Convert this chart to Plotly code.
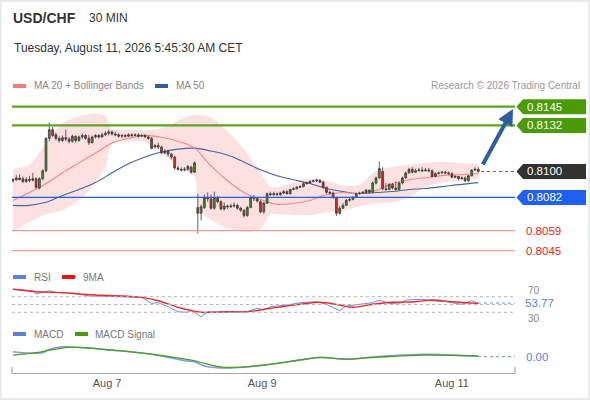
import plotly.graph_objects as go

W, H = 590, 400
FONT = "Liberation Sans, Arial, sans-serif"

# ---------------- data ----------------
opens = [
    0.80935, 0.80942, 0.80955, 0.8095, 0.8093, 0.80945, 0.8094, 0.8095, 0.80885, 0.8095,
    0.81005, 0.8123, 0.8129, 0.81255, 0.8123, 0.81215, 0.81235, 0.81225, 0.8121, 0.81245,
    0.81215, 0.8124, 0.8125, 0.8123, 0.812, 0.8124, 0.8125, 0.8124, 0.81255, 0.81265,
    0.81275, 0.8126, 0.81255, 0.81245, 0.8125, 0.81245, 0.81255, 0.8125, 0.81255, 0.81245,
    0.8125, 0.8124, 0.8123, 0.8117, 0.8118, 0.8117, 0.8113, 0.8114, 0.8112, 0.811,
    0.81025, 0.81015, 0.8101, 0.81015, 0.8103, 0.80995, 0.8075, 0.8071, 0.8075, 0.8082,
    0.8081, 0.80745, 0.8082, 0.8079, 0.8074, 0.8076, 0.80755, 0.8076, 0.80765, 0.80745,
    0.8073, 0.80695, 0.8075, 0.8082, 0.8081, 0.8079, 0.8072, 0.8078, 0.80845, 0.8084,
    0.80845, 0.8084, 0.8085, 0.8086, 0.80845, 0.80875, 0.8088, 0.8089, 0.80895, 0.80915,
    0.8092, 0.8093, 0.80935, 0.8094, 0.80925, 0.8089, 0.80855, 0.8085, 0.8082, 0.8071,
    0.80745, 0.80765, 0.808, 0.80805, 0.8082, 0.80845, 0.8085, 0.80855, 0.8087, 0.80855,
    0.8092, 0.80955, 0.81, 0.8088, 0.80875, 0.8091, 0.80885, 0.80875, 0.8092, 0.80955,
    0.8099, 0.81015, 0.80995, 0.81005, 0.8101, 0.81005, 0.8101, 0.81005, 0.80965, 0.80985,
    0.8099, 0.80995, 0.8099, 0.80985, 0.8096, 0.80965, 0.8095, 0.80955, 0.80935, 0.8097,
    0.8101, 0.81015,
]
highs = [
    0.80955, 0.80975, 0.8098, 0.80965, 0.8096, 0.8097, 0.8099, 0.8096, 0.8096, 0.81015,
    0.8124, 0.8134, 0.8131, 0.8127, 0.81245, 0.8125, 0.8129, 0.8124, 0.81255, 0.8125,
    0.8125, 0.81265, 0.8126, 0.81255, 0.8125, 0.8126, 0.8126, 0.8127, 0.8128, 0.8129,
    0.81285, 0.81275, 0.81265, 0.8126, 0.8126, 0.81265, 0.81265, 0.81265, 0.81265, 0.8126,
    0.8126, 0.8125, 0.8124, 0.8119, 0.812, 0.8118, 0.81155, 0.8115, 0.8113, 0.8111,
    0.8104, 0.8103, 0.8103, 0.81045, 0.8104, 0.8107, 0.80845, 0.8077, 0.8084, 0.80855,
    0.8084, 0.8086, 0.8083, 0.808, 0.80785, 0.8077, 0.80775, 0.80785, 0.80775, 0.80755,
    0.8074, 0.8076, 0.8083, 0.80835, 0.8082, 0.808, 0.8079, 0.80855, 0.8086, 0.8086,
    0.80855, 0.8086, 0.8087, 0.8087, 0.8088, 0.8089, 0.809, 0.80905, 0.80925, 0.8093,
    0.8094, 0.80945, 0.8095, 0.80945, 0.80935, 0.80895, 0.80865, 0.8086, 0.80825, 0.8076,
    0.8078, 0.8081, 0.80815, 0.8083, 0.80855, 0.8086, 0.80865, 0.8088, 0.80875, 0.8093,
    0.80965, 0.8107, 0.8103, 0.8092, 0.8092, 0.8092, 0.8093, 0.8093, 0.80965, 0.81,
    0.81025, 0.8103, 0.8102, 0.81025, 0.8103, 0.81025, 0.81025, 0.81015, 0.80995, 0.81,
    0.81005, 0.81005, 0.81, 0.80995, 0.80975, 0.8097, 0.80965, 0.80965, 0.80975, 0.81015,
    0.8103, 0.8103,
]
lows = [
    0.80925, 0.80935, 0.80938, 0.8092, 0.8092, 0.80925, 0.8093, 0.8088, 0.80875, 0.8094,
    0.80995, 0.8121, 0.8124, 0.81215, 0.812, 0.81205, 0.8121, 0.81195, 0.812, 0.812,
    0.81205, 0.81225, 0.8122, 0.81185, 0.81195, 0.8123, 0.8123, 0.81235, 0.81245, 0.8125,
    0.8125, 0.81245, 0.81235, 0.81235, 0.81235, 0.8124, 0.8124, 0.81245, 0.81235, 0.8124,
    0.81235, 0.8122, 0.81155, 0.8116, 0.81155, 0.8112, 0.8112, 0.81105, 0.81085, 0.8101,
    0.81005, 0.81, 0.81, 0.81005, 0.80985, 0.8099, 0.8057, 0.8066, 0.8074, 0.8079,
    0.80735, 0.80735, 0.8078, 0.8073, 0.8073, 0.8074, 0.80745, 0.8075, 0.80735, 0.8072,
    0.8068, 0.80685, 0.80745, 0.80795, 0.80785, 0.8071, 0.80705, 0.80775, 0.8083, 0.8083,
    0.8083, 0.8083, 0.80845, 0.8084, 0.8084, 0.8087, 0.80875, 0.80885, 0.8089, 0.8091,
    0.80915, 0.80925, 0.80925, 0.8092, 0.8088, 0.80845, 0.8084, 0.8081, 0.8069, 0.807,
    0.8074, 0.8076, 0.8079, 0.808, 0.80815, 0.8084, 0.80845, 0.80845, 0.80845, 0.8085,
    0.8091, 0.8095, 0.8087, 0.80865, 0.8087, 0.80875, 0.80865, 0.8087, 0.8091, 0.8095,
    0.80985, 0.8099, 0.8099, 0.81, 0.80995, 0.81, 0.80995, 0.8096, 0.8096, 0.8098,
    0.80985, 0.8098, 0.80975, 0.80955, 0.80955, 0.8094, 0.80945, 0.80925, 0.80925, 0.80965,
    0.81005, 0.8099,
]
closes = [
    0.80942, 0.80955, 0.80945, 0.8093, 0.80945, 0.80938, 0.8095, 0.8089, 0.8095, 0.81005,
    0.8123, 0.8129, 0.8125, 0.8123, 0.81215, 0.81235, 0.81225, 0.8121, 0.81245, 0.81215,
    0.8124, 0.8125, 0.8123, 0.812, 0.8124, 0.8125, 0.8124, 0.81255, 0.81265, 0.81275,
    0.8126, 0.81255, 0.81245, 0.8125, 0.81245, 0.81255, 0.8125, 0.81255, 0.81245, 0.8125,
    0.8124, 0.8123, 0.8116, 0.8118, 0.8117, 0.8113, 0.8114, 0.8112, 0.811, 0.81025,
    0.81015, 0.8101, 0.81015, 0.81035, 0.80995, 0.8106, 0.8071, 0.80755, 0.8082, 0.8081,
    0.80745, 0.8082, 0.8079, 0.8074, 0.8076, 0.80755, 0.8076, 0.80765, 0.80745, 0.8073,
    0.80695, 0.8075, 0.8082, 0.8081, 0.80795, 0.8072, 0.8078, 0.80845, 0.8084, 0.80845,
    0.8084, 0.8085, 0.8086, 0.80845, 0.80875, 0.8088, 0.8089, 0.80895, 0.80915, 0.8092,
    0.8093, 0.80935, 0.8094, 0.80925, 0.8089, 0.80855, 0.8085, 0.8082, 0.8071, 0.80745,
    0.80765, 0.808, 0.80805, 0.8082, 0.80845, 0.8085, 0.80855, 0.8087, 0.80855, 0.8092,
    0.80955, 0.8102, 0.8088, 0.80875, 0.8091, 0.80885, 0.80875, 0.8092, 0.80955, 0.8099,
    0.81015, 0.80995, 0.81005, 0.8101, 0.81005, 0.8101, 0.81005, 0.80965, 0.80985, 0.8099,
    0.80995, 0.8099, 0.80985, 0.8096, 0.80965, 0.8095, 0.80955, 0.80935, 0.8097, 0.8101,
    0.81015, 0.81,
]
candle_idx = list(range(len(closes)))

band_idx = [0, 5, 10, 15, 20, 25, 28, 30, 35, 40, 45, 50, 55, 56, 58, 60, 65, 70, 75, 78,
            80, 85, 90, 95, 100, 105, 110, 115, 120, 125, 130, 135, 140, 141]
bb_upper = [0.81018, 0.81046, 0.81197, 0.81334, 0.81382, 0.81402, 0.81385, 0.81292, 0.81292, 0.81286,
            0.81299, 0.81354, 0.81395, 0.8139, 0.81388, 0.81375, 0.81279, 0.81155, 0.80991, 0.80895,
            0.80888, 0.80923, 0.8095, 0.80936, 0.80902, 0.80909, 0.81005, 0.81032, 0.81046, 0.8106,
            0.81066, 0.8106, 0.81053, 0.81053]
bb_lower = [0.8058, 0.80649, 0.80703, 0.80731, 0.80799, 0.80923, 0.81039, 0.8119, 0.8121, 0.81203,
            0.81128, 0.81039, 0.80964, 0.80765, 0.80697, 0.80662, 0.80608, 0.8058, 0.80601, 0.80703,
            0.80703, 0.80697, 0.80697, 0.80717, 0.80724, 0.80758, 0.80779, 0.80786, 0.8082, 0.80888,
            0.80923, 0.80936, 0.8095, 0.8095]

ma_idx = [0, 5, 10, 15, 20, 25, 30, 35, 40, 45, 50, 55, 60, 65, 70, 75, 80, 85, 90, 95,
          100, 105, 110, 115, 120, 125, 130, 135, 141]
ma20 = [0.80799, 0.80854, 0.80916, 0.80991, 0.8106, 0.81128, 0.81197, 0.81231, 0.81251, 0.81238,
        0.8121, 0.81162, 0.81039, 0.80936, 0.80854, 0.80806, 0.80772, 0.80779, 0.80799, 0.8084,
        0.80854, 0.80847, 0.80868, 0.80916, 0.80943, 0.80957, 0.80971, 0.80977, 0.80984]
ma50 = [0.80765, 0.80765, 0.80786, 0.80834, 0.80875, 0.80923, 0.80991, 0.81053, 0.81101, 0.81135,
        0.81155, 0.81162, 0.81142, 0.81114, 0.81066, 0.81012, 0.80971, 0.80943, 0.80916, 0.80882,
        0.80861, 0.80847, 0.80854, 0.80861, 0.80875, 0.80882, 0.80895, 0.80909, 0.80923]

rsi_idx = [0, 6, 7, 11, 13, 19, 23, 30, 36, 39, 42, 44, 47, 50, 53, 54, 57, 59, 64, 69,
           71, 74, 76, 78, 83, 87, 92, 95, 99, 101, 106, 109, 111, 114, 117, 119, 124, 127, 131, 133,
           136, 139, 141]
rsi_vals = [89, 85.4, 77, 85.4, 81, 78.7, 71.8, 70, 67.4, 68.4, 53, 54.6, 44.4, 31.6, 30, 35.9, 18.7, 31.6, 30, 31.6,
            31.6, 40.3, 35.9, 44.4, 48.7, 54.6, 57.2, 50.5, 34.1, 46.2, 51.3, 54.6, 61.5, 53, 51.3, 61.5, 63.3, 59.7, 57.2, 54.6,
            50.5, 59.7, 53.77]
rsi_ma_idx = [0, 7, 13, 25, 39, 44, 51, 57, 64, 71, 78, 87, 93, 99, 103, 109, 115, 122, 127, 133, 141]
rsi_ma_vals = [89, 82.8, 81, 74.4, 68.4, 59.7, 40.3, 30, 31.6, 31.6, 40.3, 50.5, 55.6, 48.7, 42.8, 50.5, 55.6, 57.2,
               61.5, 57.2, 53]

macd_idx = [0, 9, 11, 15, 19, 30, 42, 53, 55, 58, 62, 67, 76, 87, 93, 101, 110, 125, 133, 141]
macd_vals = [0.00025, 0.0002, 0.00037, 0.0005, 0.00047, 0.00033, 0.00012, -0.00022, -0.00025, -0.00047,
             -0.00055, -0.00055, -0.00042, -0.00017, -0.00003, -0.00013, 0.0, 0.00012, 0.00008, 0.00003]
sig_idx = [0, 7, 17, 30, 42, 54, 64, 76, 93, 101, 110, 125, 141]
sig_vals = [0.00008, 0.0002, 0.00047, 0.00033, 0.00013, -0.00017, -0.00053, -0.00042, -0.00005, -0.00012,
            -0.00003, 0.00008, 0.00003]

res_levels = [0.8145, 0.8132]
pivot_level = 0.8100
sup_level = 0.8082
low_levels = [0.8059, 0.8045]
rsi_bands = [70, 50, 30]
rsi_last = 53.77
macd_last = 0.00

tick_pos = [28.5, 75.5, 133]
tick_text = ["Aug 7", "Aug 9", "Aug 11"]

# ---------------- layout helpers ----------------
def X(px):
    return px / W


def Y(py):
    return 1 - py / H


main_dom = [Y(262), Y(92)]
rsi_dom = [Y(320), Y(286)]
macd_dom = [Y(373), Y(340)]
main_range = [0.803715, 0.81552]
rsi_range = [10.3, 97.4]
macd_range = [-0.000815, 0.000835]
x_range = [-0.303, 152.12]
XL, XR = X(12), X(515)


def yp(p):
    return main_dom[0] + (p - main_range[0]) / (main_range[1] - main_range[0]) * (main_dom[1] - main_dom[0])


fig = go.Figure()

# Bollinger band + moving averages (base price axis)
fig.add_trace(go.Scatter(x=band_idx, y=bb_upper, mode="lines", line=dict(width=0, shape="spline", smoothing=0.8),
                         hoverinfo="skip", yaxis="y"))
fig.add_trace(go.Scatter(x=band_idx, y=bb_lower, mode="lines", line=dict(width=0, shape="spline", smoothing=0.8),
                         fill="tonexty", fillcolor="#fde0e0", hoverinfo="skip", yaxis="y"))
fig.add_trace(go.Scatter(x=ma_idx, y=ma50, mode="lines", line=dict(color="#4266a6", width=1.1, shape="spline"),
                         yaxis="y"))
fig.add_trace(go.Scatter(x=ma_idx, y=ma20, mode="lines", line=dict(color="#f58686", width=1.1, shape="spline"),
                         yaxis="y"))
# candles on an overlaying axis so they are drawn above the band fill
fig.add_trace(go.Candlestick(
    x=candle_idx, open=opens, high=highs, low=lows, close=closes, yaxis="y4",
    increasing=dict(line=dict(color="#3d3d3d", width=0.8), fillcolor="#3e8e22"),
    decreasing=dict(line=dict(color="#3d3d3d", width=0.8), fillcolor="#e3211c"),
    whiskerwidth=0,
))

# RSI
fig.add_trace(go.Scatter(x=rsi_idx, y=rsi_vals, mode="lines", line=dict(color="#6b8ee6", width=1), yaxis="y2"))
fig.add_trace(go.Scatter(x=rsi_ma_idx, y=rsi_ma_vals, mode="lines",
                         line=dict(color="#ec2a2a", width=1.4, shape="spline"), yaxis="y2"))
# MACD
fig.add_trace(go.Scatter(x=macd_idx, y=macd_vals, mode="lines",
                         line=dict(color="#7d9bec", width=1.6, shape="spline"), yaxis="y3"))
fig.add_trace(go.Scatter(x=sig_idx, y=sig_vals, mode="lines",
                         line=dict(color="#4f9e1c", width=1.3, shape="spline"), yaxis="y3"))

shapes = []
annotations = []

# frame
shapes.append(dict(type="rect", xref="paper", yref="paper", x0=0.001, x1=0.999, y0=0.002, y1=0.998,
                   line=dict(color="#e2e8ec", width=2), layer="below"))

# price levels
for lv in res_levels:
    shapes.append(dict(type="line", xref="paper", yref="y", x0=XL, x1=XR, y0=lv, y1=lv,
                       line=dict(color="#5ea420", width=2.2)))
shapes.append(dict(type="line", xref="paper", yref="y", x0=XL, x1=XR, y0=sup_level, y1=sup_level,
                   line=dict(color="#1f60f0", width=1.4)))
for lv in low_levels:
    shapes.append(dict(type="line", xref="paper", yref="y", x0=XL, x1=XR, y0=lv, y1=lv,
                       line=dict(color="#f29a9a", width=1.2)))
shapes.append(dict(type="line", xref="paper", yref="y", x0=X(481), x1=X(516), y0=pivot_level, y1=pivot_level,
                   line=dict(color="#666666", width=1, dash="dot")))


def tag(level, color):
    cy = yp(level)
    hh = 7.5 / H
    path = (f"M {X(516.5)},{cy} L {X(523)},{cy + hh} L {X(586)},{cy + hh} "
            f"L {X(586)},{cy - hh} L {X(523)},{cy - hh} Z")
    shapes.append(dict(type="path", xref="paper", yref="paper", path=path, fillcolor=color,
                       line=dict(width=0), layer="above"))
    annotations.append(dict(xref="paper", yref="y", x=X(525), y=level, text=f"{level:.4f}", showarrow=False,
                            xanchor="left", yanchor="middle", font=dict(family=FONT, size=11.5, color="white")))


for lv in res_levels:
    tag(lv, "#4b9b09")
tag(pivot_level, "#323232")
tag(sup_level, "#1f60f0")
for lv in low_levels:
    annotations.append(dict(xref="paper", yref="y", x=X(524), y=lv, text=f"{lv:.4f}", showarrow=False,
                            xanchor="left", yanchor="middle", font=dict(family=FONT, size=11.5, color="#e8261c")))

# RSI grid
for v in rsi_bands:
    shapes.append(dict(type="line", xref="paper", yref="y2", x0=XL, x1=XR, y0=v, y1=v,
                       line=dict(color="#b5b5b5", width=1, dash="dot")))
shapes.append(dict(type="line", xref="paper", yref="y2", x0=X(478), x1=XR, y0=rsi_last, y1=rsi_last,
                   line=dict(color="#6b8ee6", width=1, dash="dot")))
shapes.append(dict(type="line", xref="paper", yref="y3", x0=X(478), x1=XR, y0=macd_last, y1=macd_last,
                   line=dict(color="#6b8ee6", width=1, dash="dot")))

annotations.append(dict(xref="paper", yref="y2", x=X(526), y=rsi_bands[0], text=str(rsi_bands[0]),
                        showarrow=False, xanchor="left", yanchor="bottom", yshift=-1,
                        font=dict(family=FONT, size=10, color="#888")))
annotations.append(dict(xref="paper", yref="y2", x=X(526), y=rsi_bands[2], text=str(rsi_bands[2]),
                        showarrow=False, xanchor="left", yanchor="top", yshift=1,
                        font=dict(family=FONT, size=10, color="#888")))
annotations.append(dict(xref="paper", yref="y2", x=X(524), y=rsi_last, text=f"{rsi_last:.2f}", showarrow=False,
                        xanchor="left", yanchor="middle", bgcolor="white", borderpad=0,
                        font=dict(family=FONT, size=11.5, color="#5b80e0")))
annotations.append(dict(xref="paper", yref="y3", x=X(524), y=macd_last, text=f"{macd_last:.2f}", showarrow=False,
                        xanchor="left", yanchor="middle", font=dict(family=FONT, size=11.5, color="#5b80e0")))

# x-axis end brackets
for xe in (12, 515):
    shapes.append(dict(type="line", xref="paper", yref="paper", x0=X(xe), x1=X(xe), y0=Y(373), y1=Y(367),
                       line=dict(color="#a8a8a8", width=1.2)))

# arrow
annotations.append(dict(xref="paper", yref="paper", x=X(513), y=Y(109), ax=-31, ay=57, text="",
                        showarrow=True, arrowhead=2, arrowsize=0.8, arrowwidth=4, arrowcolor="#2f5e9e"))

# header
annotations += [
    dict(xref="paper", yref="paper", x=X(11), y=Y(18), text="<b>USD/CHF</b>", showarrow=False, xanchor="left",
         yanchor="middle", font=dict(family=FONT, size=14, color="#333")),
    dict(xref="paper", yref="paper", x=X(87), y=Y(18), text="30 MIN", showarrow=False, xanchor="left",
         yanchor="middle", font=dict(family=FONT, size=12, color="#333")),
    dict(xref="paper", yref="paper", x=X(12), y=Y(48), text="Tuesday, August 11, 2026 5:45:30 AM CET",
         showarrow=False, xanchor="left", yanchor="middle", font=dict(family=FONT, size=12, color="#333")),
    dict(xref="paper", yref="paper", x=X(32), y=Y(86), text="MA 20 + Bollinger Bands", showarrow=False,
         xanchor="left", yanchor="middle", font=dict(family=FONT, size=10, color="#888")),
    dict(xref="paper", yref="paper", x=X(174), y=Y(86), text="MA 50", showarrow=False,
         xanchor="left", yanchor="middle", font=dict(family=FONT, size=10, color="#888")),
    dict(xref="paper", yref="paper", x=X(582), y=Y(86), text="Research © 2026 Trading Central", showarrow=False,
         xanchor="right", yanchor="middle", font=dict(family=FONT, size=10, color="#999")),
    dict(xref="paper", yref="paper", x=X(32), y=Y(277), text="RSI", showarrow=False,
         xanchor="left", yanchor="middle", font=dict(family=FONT, size=10, color="#777")),
    dict(xref="paper", yref="paper", x=X(81), y=Y(277), text="9MA", showarrow=False,
         xanchor="left", yanchor="middle", font=dict(family=FONT, size=10, color="#777")),
    dict(xref="paper", yref="paper", x=X(32), y=Y(334), text="MACD", showarrow=False,
         xanchor="left", yanchor="middle", font=dict(family=FONT, size=10, color="#777")),
    dict(xref="paper", yref="paper", x=X(93), y=Y(334), text="MACD Signal", showarrow=False,
         xanchor="left", yanchor="middle", font=dict(family=FONT, size=10, color="#777")),
]


def swatch(x0, x1, yc, color):
    shapes.append(dict(type="rect", xref="paper", yref="paper", x0=X(x0), x1=X(x1), y0=Y(yc + 2), y1=Y(yc - 2),
                       fillcolor=color, line=dict(width=0)))


swatch(13, 26, 86, "#f87a7a")
swatch(155, 168, 86, "#3a5a9a")
swatch(13, 26, 277, "#5b80e0")
swatch(62, 75, 277, "#e81414")
swatch(13, 26, 334, "#5b80e0")
swatch(75, 88, 334, "#4a9a0a")

fig.update_layout(
    width=W, height=H, autosize=False,
    margin=dict(l=0, r=0, t=0, b=0, pad=0),
    paper_bgcolor="white", plot_bgcolor="white",
    showlegend=False, boxgap=0.2,
    font=dict(family=FONT),
    shapes=shapes, annotations=annotations,
    xaxis=dict(domain=[XL, XR], range=x_range, anchor="y3", showgrid=False, zeroline=False,
               showline=True, linecolor="#a8a8a8", linewidth=1.2, ticks="",
               tickvals=tick_pos, ticktext=tick_text, tickfont=dict(family=FONT, size=11, color="#555"),
               rangeslider=dict(visible=False), fixedrange=True),
    yaxis=dict(domain=main_dom, range=main_range, visible=False, fixedrange=True),
    yaxis2=dict(domain=rsi_dom, range=rsi_range, visible=False, fixedrange=True),
    yaxis3=dict(domain=macd_dom, range=macd_range, visible=False, fixedrange=True),
    yaxis4=dict(overlaying="y", range=main_range, visible=False, fixedrange=True),
)

fig.write_html("out.html", config={"displayModeBar": False},
               post_script="document.body.style.margin='0';")
